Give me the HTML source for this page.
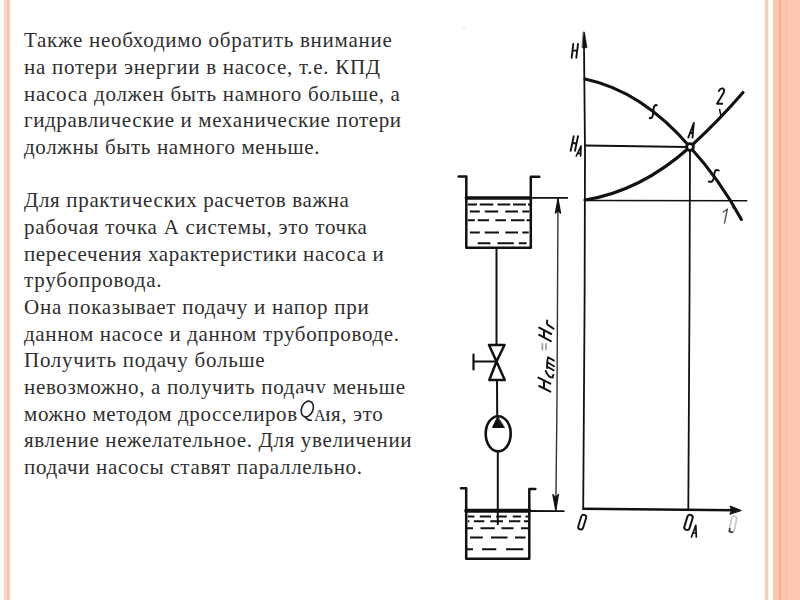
<!DOCTYPE html>
<html><head><meta charset="utf-8">
<style>
html,body{margin:0;padding:0;width:800px;height:600px;overflow:hidden;background:#fff;position:relative}
.t{position:absolute;left:24px;white-space:nowrap;font-family:"Liberation Serif",serif;font-size:21px;letter-spacing:0.65px;color:#2e2e2e;line-height:26px}
.bar{position:absolute;top:0;height:600px}
svg{position:absolute;left:0;top:0}
.qa{position:absolute;left:297.6px;top:393px;width:28.4px;height:32px;background:#fff;font-family:"Liberation Serif",serif;color:#2a3040}
</style></head><body>
<div class="bar" style="left:3px;width:8px;background:linear-gradient(to right,#fdf1ec 0px,#fdf1ec 1px,#fad9cc 1px,#fad9cc 2px,#fcd3c4 2px,#fcd3c4 4px,#f2c2b2 4px,#f2c2b2 6px,#f7d8cc 6px,#f7d8cc 7px,#fef6f2 7px)"></div>
<div class="bar" style="left:764px;width:5px;background:linear-gradient(to right,#fdf3ef 0px,#fdf3ef 1px,#f7d3c5 1px,#f7d3c5 2px,#f5c9b9 2px,#f5c9b9 3px,#f7d0c1 3px,#f7d0c1 4px,#fdf1ec 4px)"></div>
<div class="bar" style="left:773px;width:27px;background:#fcc7b0"></div>
<div class="bar" style="left:779px;width:1px;background:#f3b597"></div><div class="bar" style="left:780px;width:1px;background:#eeaa88"></div><div class="bar" style="left:786px;width:1px;background:#f8bda6"></div>
<div class="t" style="top:27.40px;letter-spacing:0.729px">Также необходимо обратить внимание</div>
<div class="t" style="top:54.06px;letter-spacing:0.724px">на потери энергии в насосе, т.е. КПД</div>
<div class="t" style="top:80.71px;letter-spacing:0.713px">насоса должен быть намного больше, а</div>
<div class="t" style="top:107.37px;letter-spacing:0.610px">гидравлические и механические потери</div>
<div class="t" style="top:134.02px;letter-spacing:0.635px">должны быть намного меньше.</div>
<div class="t" style="top:187.34px;letter-spacing:0.657px">Для практических расчетов важна</div>
<div class="t" style="top:213.99px;letter-spacing:0.750px">рабочая точка А системы, это точка</div>
<div class="t" style="top:240.65px;letter-spacing:0.615px">пересечения характеристики насоса и</div>
<div class="t" style="top:267.30px;letter-spacing:0.783px">трубопровода.</div>
<div class="t" style="top:293.96px;letter-spacing:0.744px">Она показывает подачу и напор при</div>
<div class="t" style="top:320.62px;letter-spacing:0.659px">данном насосе и данном трубопроводе.</div>
<div class="t" style="top:347.27px;letter-spacing:0.736px">Получить подачу больше</div>
<div class="t" style="top:373.93px;letter-spacing:0.679px">невозможно, а получить подачу меньше</div>
<div class="t" style="top:400.58px;letter-spacing:0.608px">можно методом дросселирования, это</div>
<div class="t" style="top:427.24px;letter-spacing:0.639px">явление нежелательное. Для увеличении</div>
<div class="t" style="top:453.90px;letter-spacing:0.669px">подачи насосы ставят параллельно.</div>

<div class="qa"><svg width="29" height="32" style="position:absolute;left:0;top:0"><g transform="translate(-297.6,-393)" fill="none" stroke="#1c1f2c"><ellipse cx="306.9" cy="409" rx="5.7" ry="8.2" transform="rotate(22 306.9 409)" stroke-width="1.6"/><path d="M304.5,416.5 Q307,420.8 311.5,420.3" stroke-width="1.5"/></g></svg><span style="position:absolute;left:16.4px;top:15px;font-size:16px;line-height:16px">A</span></div>
<svg width="800" height="600" viewBox="0 0 800 600" fill="none" stroke="#111" stroke-linecap="round" stroke-linejoin="round">
<!-- y axis -->
<polyline points="584,46 585,150 584.6,300 583.2,509" stroke-width="1.8"/>
<polygon points="583.5,32 584.5,32 587,47.7 582.4,47.7" fill="#111" stroke-width="0.6"/>
<!-- H label -->
<path d="M573.3,44 L571.7,57.7 M578,44 L576.3,57.7 M572.5,50.6 L577.2,50.6" stroke-width="1.9"/>
<!-- HA label -->
<path d="M573.7,136.3 L570.7,150.7 M578,136.3 L575,150.7 M572.2,143.2 L576.6,143.2" stroke-width="1.9"/>
<path d="M576.3,156 L581,146 L580.6,156 M577.8,153.3 L580.8,153.3" stroke-width="1.7"/>
<!-- HA line -->
<line x1="585" y1="145.5" x2="688" y2="147" stroke-width="1.8"/>
<!-- base line -->
<line x1="585" y1="200.5" x2="746.7" y2="200.7" stroke-width="1.6"/>
<!-- vertical at QA -->
<polyline points="690,150 689.5,300 688.3,509" stroke-width="1.8"/>
<!-- x axis -->
<line x1="583.5" y1="508.8" x2="735" y2="510.3" stroke-width="2.6"/>
<polygon points="741,510.4 730,506 731.5,510.3 730,514" fill="#111" stroke-width="1"/>
<!-- pump curve 1 -->
<path d="M585,79 Q642,91 690,147 Q720,180 741.4,219.5" stroke-width="3.1"/>
<!-- pipeline curve 2 -->
<path d="M585,200 Q641,191 690,147 Q718,121.5 743,92.5" stroke-width="3.1"/>
<!-- circle A -->
<circle cx="690" cy="147" r="3.4" fill="#fff" stroke-width="2.8"/>
<!-- S marks -->
<path d="M656.7,105.3 Q653.5,104 653.3,112 Q653,119 649.7,118" stroke-width="2"/>
<path d="M718.7,170.5 Q714.5,168 714,176.3 Q713.5,183 708.8,181.6" stroke-width="2"/>
<!-- tick on curve 2 -->
<path d="M719.6,109.5 L720.8,115" stroke-width="1.5"/>
<path d="M733,205.5 L733.3,208.4" stroke-width="1.3"/>
<!-- labels 2, A, 1 -->
<path d="M718.8,91 Q720.5,87.8 723,88.5 Q725,90 723.5,93 L717,103.7 L722.3,103.7" stroke-width="1.9"/>
<path d="M688.3,137.5 L693.8,123 L692.5,137.5 M689.8,133 L693,133" stroke-width="1.9"/>
<path d="M723.3,212 L727.4,209 L724.5,223" stroke="#555" stroke-width="1.4"/>
<!-- 0, QA, Q labels -->
<rect x="579.7" y="514.5" width="5" height="15.2" rx="2.5" transform="rotate(17 582.2 522.1)" stroke-width="1.9"/>
<rect x="685.8" y="514.6" width="5.4" height="15.6" rx="2.6" transform="rotate(17 688.5 522.4)" stroke-width="2"/>
<path d="M691.5,537 L695.8,525.3 L696.3,537 M693,533 L696,533" stroke-width="1.7"/>
<rect x="730.5" y="516" width="5" height="16" rx="2.4" transform="rotate(12 733 524)" stroke="#c8c8c8" stroke-width="1.6"/>
<path d="M729.8,528.5 L729.3,531.8 L732.5,532.3" stroke="#333" stroke-width="1.6"/>
<!-- upper tank -->
<path d="M458.6,176.4 L466.3,176.4 L466.3,247.8 L530.8,247.8 L530.8,176.8 L539.3,176.8" stroke-width="2.5"/>
<line x1="466.3" y1="198" x2="530.8" y2="198" stroke-width="3.4"/>
<line x1="530.8" y1="197.8" x2="567.2" y2="197.9" stroke-width="1.8"/>
<g stroke-width="2" stroke-linecap="butt">
<path d="M467.8,204.4H477 M479.8,204.4H493.3 M497.5,204.4H510.3 M513,204.4H525.9 M528,204.4H530"/>
<path d="M469.9,211.4H479.8 M484.8,211.4H498.2 M505.3,211.4H518 M522.3,211.4H529.4"/>
<path d="M467.8,220.3H474.8 M477.7,220.3H489 M495.4,220.3H506 M511,220.3H524.5 M526.6,220.3H530"/>
<path d="M469.9,232.4H479.8 M484.8,232.4H499 M505.3,232.4H518 M522.3,232.4H528.7"/>
<path d="M477.7,243.3H490.4 M497.5,243.3H513.8 M518.8,243.3H526.6"/>
</g>
<!-- pipe -->
<line x1="496.5" y1="248" x2="496.5" y2="345" stroke-width="2"/>
<!-- valve -->
<path d="M489,345 L504.5,345 L496.5,361.5 Z M496.5,361.5 L489.3,380 L504.8,380 Z" stroke-width="2.5"/>
<path d="M473.5,361.5 L496.5,361.5 M473.5,354.5 L473.5,369.5" stroke-width="2.2"/>
<line x1="497" y1="380" x2="497.2" y2="416" stroke-width="2"/>
<!-- pump -->
<ellipse cx="498.2" cy="433.8" rx="12.5" ry="17.6" stroke-width="2.6"/>
<polygon points="497.5,417 492.5,427.5 504,427.5" fill="#111" stroke-width="1"/>
<line x1="497.8" y1="451" x2="497.8" y2="524.3" stroke-width="2"/>
<!-- lower tank -->
<path d="M461,488.3 L466.2,488.3 L466.2,558.8 L529.3,558.8 L529.3,489 L535.3,489" stroke-width="2.5"/>
<line x1="466.2" y1="510.8" x2="529.3" y2="510.8" stroke-width="4"/>
<line x1="529.3" y1="511" x2="563.8" y2="511.2" stroke-width="1.8"/>
<g stroke-width="2" stroke-linecap="butt">
<path d="M467.8,516.4H474.5 M479.8,516.4H491 M496.3,516.4H506.8 M512.8,516.4H521 M525.5,516.4H528.5"/>
<path d="M467.8,521.3H469.3 M473.8,521.3H484.3 M490.3,521.3H503 M509,521.3H520.3 M524,521.3H528.5"/>
<path d="M467,528.3H473 M480.5,528.3H494.8 M501.5,528.3H513.5 M521,528.3H528.5"/>
<path d="M470,537.5H482.8 M491,537.5H507.5 M515,537.5H525.5"/>
<path d="M467,549.3H473 M482,549.3H496.3 M506,549.3H523.3"/>
</g>
<!-- dimension line -->
<polyline points="558,199 557,400 555.8,510" stroke-width="1.4" stroke="#333"/>
<polygon points="558,198.5 555.4,213.2 558,210.5 560.6,213.2" fill="#111" stroke-width="1.2"/>
<polygon points="552.8,494.5 555.6,497.8 558.4,494.5 555.8,510.5" fill="#111" stroke-width="1.2"/>
<line x1="463.5" y1="27" x2="464.5" y2="29" stroke="#ddd" stroke-width="1"/>
<!-- Hcm=Hr rotated text -->
<g stroke-width="2">
<path d="M538.4,377.6 L550.4,383.6 M539.2,386 L550.4,391.6 M544,380.4 L544,388.4"/>
<path d="M545.8,371 Q548,377.3 552.5,377.6 L553.4,374.8" stroke-width="1.9"/>
<path d="M548,357.3 Q546.8,362 547,368 M548,357.3 L554,360.6 M547.3,362.3 L554,366.2 M547,366.6 L553.6,370.2" stroke-width="1.8"/>
<path d="M542.4,343.8 L542.4,349.6 M546,343.8 L546,349.6" stroke="#999" stroke-width="1.6"/>
<path d="M539.2,327.6 L551.2,334 M539.2,334.8 L550.8,341.2 M544,330.2 L544,337.5"/>
<path d="M547.2,320.5 Q546.6,323.5 547.5,324.6 L553.6,328.8"/>
</g>
</svg>
</body></html>
